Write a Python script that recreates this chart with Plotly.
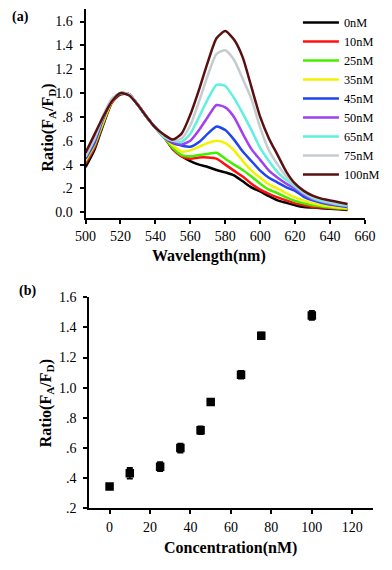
import plotly.graph_objects as go

W, H = 392, 570

wavelength = list(range(500, 655, 5))

names = ["0nM", "10nM", "25nM", "35nM", "45nM", "50nM", "65nM", "75nM", "100nM"]
colors = ["#000000", "#ff1010", "#44ee00", "#f2f200", "#1f45f0", "#a040ee", "#5ff0e0", "#c4ccd0", "#5a1010"]

s0 = [0.38, 0.52, 0.73, 0.92, 0.99, 0.99, 0.90, 0.80, 0.71, 0.63, 0.53, 0.47, 0.43, 0.40, 0.38, 0.355,
      0.335, 0.31, 0.26, 0.21, 0.175, 0.135, 0.10, 0.08, 0.06, 0.045, 0.04, 0.035, 0.03, 0.025, 0.02]
s10 = [0.41, 0.54, 0.74, 0.92, 1.00, 0.99, 0.90, 0.80, 0.71, 0.63, 0.53, 0.47, 0.45, 0.46, 0.46, 0.45,
       0.40, 0.35, 0.30, 0.24, 0.19, 0.155, 0.125, 0.10, 0.075, 0.06, 0.045, 0.04, 0.035, 0.03, 0.025]
s25 = [0.43, 0.56, 0.75, 0.93, 1.00, 0.99, 0.90, 0.80, 0.71, 0.63, 0.54, 0.48, 0.47, 0.48, 0.49, 0.50,
       0.45, 0.40, 0.355, 0.30, 0.24, 0.19, 0.16, 0.125, 0.095, 0.075, 0.06, 0.05, 0.04, 0.035, 0.03]
s35 = [0.44, 0.57, 0.76, 0.93, 1.00, 0.99, 0.90, 0.80, 0.71, 0.63, 0.56, 0.51, 0.52, 0.55, 0.58, 0.60,
       0.58, 0.52, 0.43, 0.35, 0.29, 0.235, 0.20, 0.16, 0.125, 0.10, 0.075, 0.06, 0.05, 0.04, 0.035]
s45 = [0.45, 0.58, 0.78, 0.94, 1.00, 0.99, 0.90, 0.80, 0.71, 0.63, 0.58, 0.56, 0.55, 0.59, 0.66, 0.72,
       0.69, 0.61, 0.51, 0.43, 0.35, 0.29, 0.25, 0.21, 0.18, 0.13, 0.10, 0.08, 0.065, 0.055, 0.045]
s50 = [0.46, 0.60, 0.79, 0.94, 1.00, 0.99, 0.90, 0.80, 0.71, 0.63, 0.59, 0.57, 0.60, 0.69, 0.80, 0.90,
       0.88, 0.80, 0.66, 0.53, 0.44, 0.35, 0.29, 0.24, 0.20, 0.15, 0.11, 0.09, 0.07, 0.06, 0.05]
s65 = [0.47, 0.61, 0.80, 0.95, 1.00, 0.99, 0.90, 0.80, 0.71, 0.63, 0.60, 0.59, 0.66, 0.80, 0.95, 1.07,
       1.06, 0.96, 0.83, 0.69, 0.54, 0.43, 0.335, 0.27, 0.215, 0.16, 0.12, 0.095, 0.08, 0.065, 0.055]
s75 = [0.47, 0.62, 0.81, 0.95, 1.00, 0.99, 0.90, 0.80, 0.71, 0.64, 0.60, 0.62, 0.73, 0.93, 1.15, 1.33,
       1.36, 1.28, 1.12, 0.95, 0.71, 0.52, 0.40, 0.30, 0.23, 0.17, 0.13, 0.11, 0.09, 0.075, 0.065]
s100 = [0.50, 0.65, 0.80, 0.93, 1.00, 0.98, 0.90, 0.80, 0.71, 0.65, 0.61, 0.66, 0.82, 1.03, 1.26, 1.46,
        1.52, 1.45, 1.30, 1.05, 0.80, 0.62, 0.48, 0.34, 0.24, 0.18, 0.14, 0.115, 0.10, 0.085, 0.07]
spectra = [s0, s10, s25, s35, s45, s50, s65, s75, s100]

conc = [0, 10, 25, 35, 45, 50, 65, 75, 100]
ratio = [0.345, 0.433, 0.477, 0.600, 0.718, 0.906, 1.086, 1.345, 1.479]
ratio_err = [0.015, 0.035, 0.03, 0.03, 0.025, 0.02, 0.025, 0.02, 0.03]

ytick_a = [0.0, 0.2, 0.4, 0.6, 0.8, 1.0, 1.2, 1.4, 1.6]
ytext_a = ["0.0", ".2", ".4", ".6", ".8", "1.0", "1.2", "1.4", "1.6"]
xtick_a = [500, 520, 540, 560, 580, 600, 620, 640, 660]
ytick_b = [0.2, 0.4, 0.6, 0.8, 1.0, 1.2, 1.4, 1.6]
ytext_b = [".2", ".4", ".6", ".8", "1.0", "1.2", "1.4", "1.6"]
xtick_b = [0, 20, 40, 60, 80, 100, 120]

FONT = "Liberation Serif"


def px(x):
    return x / W


def py(y):
    return 1 - y / H


fig = go.Figure()
for name, col, ys in zip(names, colors, spectra):
    fig.add_trace(go.Scatter(x=wavelength, y=ys, name=name, mode="lines",
                             line=dict(color=col, width=2.5, shape="spline", smoothing=0.6),
                             xaxis="x", yaxis="y"))

fig.add_trace(go.Scatter(x=conc, y=ratio, mode="markers", showlegend=False,
                         marker=dict(symbol="square", size=8.5, color="black"),
                         error_y=dict(type="data", array=ratio_err, color="black", thickness=1.8, width=3),
                         xaxis="x2", yaxis="y2"))

axis_common = dict(showgrid=False, zeroline=False, showline=True, linecolor="black", linewidth=2,
                   ticks="outside", tickcolor="black", ticklen=4, tickwidth=1.5,
                   tickfont=dict(family=FONT, size=14, color="black"))

fig.update_layout(
    width=W, height=H, margin=dict(l=0, r=0, t=0, b=0),
    paper_bgcolor="white", plot_bgcolor="white",
    font=dict(family=FONT, color="black"),
    xaxis=dict(domain=[px(79), px(375)], range=[500, 660], tickvals=xtick_a, anchor="y",
               ticklabelstandoff=0, **axis_common),
    yaxis=dict(domain=[py(217), py(2)], range=[-0.05, 1.706], tickvals=ytick_a, ticktext=ytext_a,
               anchor="x", ticklabelstandoff=4, **axis_common),
    xaxis2=dict(domain=[px(83), px(383)], range=[-10, 130], tickvals=xtick_b, anchor="y2",
                ticklabelstandoff=1, **axis_common),
    yaxis2=dict(domain=[py(515), py(298)], range=[0.2, 1.6], tickvals=ytick_b, ticktext=ytext_b,
                anchor="x2", ticklabelstandoff=4, **axis_common),
    legend=dict(x=px(304), y=py(1), xanchor="left", yanchor="top", bgcolor="rgba(0,0,0,0)",
                font=dict(family=FONT, size=12.3, color="black"), tracegroupgap=0,
                itemwidth=36),
    showlegend=True,
)

ann = [
    dict(text="<b>(a)</b>", x=px(10), y=py(10)),
    dict(text="<b>(b)</b>", x=px(17), y=py(292)),
    dict(text="<b>Wavelength(nm)</b>", x=px(210), y=py(256)),
    dict(text="<b>Concentration(nM)</b>", x=px(233), y=py(556)),
    dict(text="<b>Ratio(F<sub>A</sub>/F<sub>D</sub>)</b>", x=px(40), y=py(124), textangle=-90),
    dict(text="<b>Ratio(F<sub>A</sub>/F<sub>D</sub>)</b>", x=px(37), y=py(407), textangle=-90),
]
for a in ann:
    size = 14 if a["text"].startswith("<b>(") else 16
    fig.add_annotation(xref="paper", yref="paper", showarrow=False, xanchor="center", yanchor="middle",
                       font=dict(family=FONT, size=size, color="black"), **a)

fig.write_html("out.html", config={"displayModeBar": False},
               post_script="document.body.style.margin='0';document.body.style.overflow='hidden';")
